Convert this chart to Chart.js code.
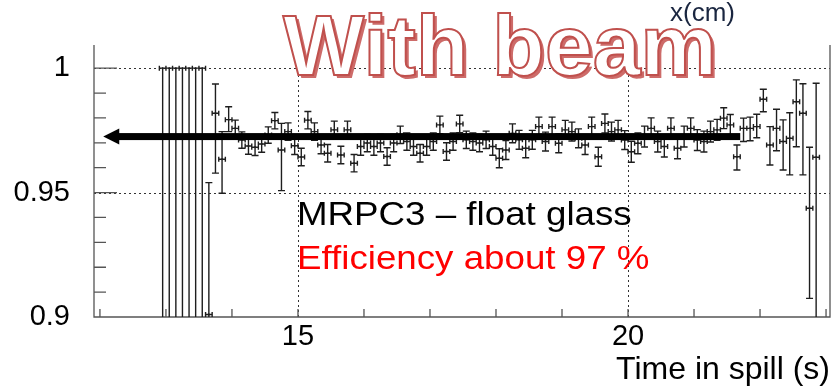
<!DOCTYPE html>
<html>
<head>
<meta charset="utf-8">
<script src="https://cdn.jsdelivr.net/npm/chart.js@4.4.1/dist/chart.umd.min.js"></script>
<style>
  html, body { margin: 0; padding: 0; background: #fff; }
  canvas { display: block; }
</style>
</head>
<body>
<canvas id="chart" width="834" height="386"></canvas>
<script>
'use strict';

// bin centres in seconds (0.1 s bins)
var spillTime = [
    12.95, 13.05, 13.15, 13.25, 13.35, 13.45, 13.55, 13.65, 13.75, 13.85,
    13.95, 14.05, 14.15, 14.25, 14.35, 14.45, 14.55, 14.65, 14.75, 14.85,
    14.95, 15.05, 15.15, 15.25, 15.35, 15.45, 15.55, 15.65, 15.75, 15.85,
    15.95, 16.05, 16.15, 16.25, 16.35, 16.45, 16.55, 16.65, 16.75, 16.85,
    16.95, 17.05, 17.15, 17.25, 17.35, 17.45, 17.55, 17.65, 17.75, 17.85,
    17.95, 18.05, 18.15, 18.25, 18.35, 18.45, 18.55, 18.65, 18.75, 18.85,
    18.95, 19.05, 19.15, 19.25, 19.35, 19.45, 19.55, 19.65, 19.75, 19.85,
    19.95, 20.05, 20.15, 20.25, 20.35, 20.45, 20.55, 20.65, 20.75, 20.85,
    20.95, 21.05, 21.15, 21.25, 21.35, 21.45, 21.55, 21.65, 21.75, 21.85,
    21.95, 22.05, 22.15, 22.25, 22.35, 22.45, 22.55, 22.65, 22.75, 22.85
];
var efficiency = [
    1.0, 1.0, 1.0, 1.0, 1.0, 1.0, 1.0, 0.901, 0.9819, 0.9634,
    0.9793, 0.9758, 0.9711, 0.9687, 0.9682, 0.9695, 0.9731, 0.9789, 0.9671, 0.9745,
    0.9688, 0.9643, 0.9791, 0.9745, 0.9691, 0.9658, 0.9752, 0.9651, 0.9752, 0.9618,
    0.9685, 0.9699, 0.9685, 0.9699, 0.9645, 0.9699, 0.9732, 0.9705, 0.9685, 0.9658,
    0.9685, 0.9705, 0.9772, 0.9665, 0.9705, 0.9776, 0.9712, 0.9705, 0.9699, 0.9712,
    0.9685, 0.9638, 0.9671, 0.9738, 0.9712, 0.9678, 0.9712, 0.9765, 0.9705, 0.9765,
    0.9698, 0.9752, 0.9745, 0.9718, 0.9691, 0.9765, 0.9644, 0.9778, 0.9745, 0.9752,
    0.9711, 0.9664, 0.9698, 0.9725, 0.9758, 0.9705, 0.9685, 0.9758, 0.9678, 0.9725,
    0.9758, 0.9711, 0.9705, 0.9745, 0.9752, 0.9799, 0.9772, 0.9644, 0.9758, 0.9758,
    0.9765, 0.9875, 0.9691, 0.9758, 0.9705, 0.9718, 0.9865, 0.9819, 0.9437, 0.9642
];
var errUp = [
    0, 0, 0, 0, 0, 0, 0, 0.053, 0.0117, 0.0111,
    0.0052, 0.0033, 0.0033, 0.0033, 0.0033, 0.0033, 0.0033, 0.0033, 0.0107, 0.0035,
    0.0035, 0.0035, 0.0035, 0.0035, 0.0035, 0.0035, 0.0035, 0.0035, 0.0035, 0.0035,
    0.0035, 0.0035, 0.0035, 0.0035, 0.0035, 0.0035, 0.0035, 0.0035, 0.0035, 0.0035,
    0.0035, 0.0035, 0.0035, 0.0035, 0.0035, 0.0035, 0.0035, 0.0035, 0.0035, 0.0035,
    0.0035, 0.0038, 0.0038, 0.0038, 0.0038, 0.0038, 0.0038, 0.0038, 0.0038, 0.0038,
    0.0038, 0.0038, 0.0038, 0.0038, 0.0038, 0.0038, 0.0038, 0.0038, 0.0038, 0.0038,
    0.0038, 0.0042, 0.0042, 0.0042, 0.0042, 0.0042, 0.0042, 0.0042, 0.0042, 0.0042,
    0.0042, 0.0042, 0.0042, 0.0042, 0.0042, 0.0042, 0.0042, 0.0047, 0.0041, 0.0045,
    0.0050, 0.0040, 0.0074, 0.0077, 0.0087, 0.0103, 0.0088, 0.0118, 0.0245, 0.0297
];
var errDown = [
    1, 1, 1, 1, 1, 1, 1, 0.9, 0.0241, 0.0137,
    0.0048, 0.0033, 0.0033, 0.0033, 0.0033, 0.0033, 0.0033, 0.0033, 0.0163, 0.0035,
    0.0035, 0.0035, 0.0035, 0.0035, 0.0035, 0.0035, 0.0035, 0.0035, 0.0035, 0.0035,
    0.0035, 0.0035, 0.0035, 0.0035, 0.0035, 0.0035, 0.0035, 0.0035, 0.0035, 0.0035,
    0.0035, 0.0035, 0.0035, 0.0035, 0.0035, 0.0035, 0.0035, 0.0035, 0.0035, 0.0035,
    0.0035, 0.0038, 0.0038, 0.0038, 0.0038, 0.0038, 0.0038, 0.0038, 0.0038, 0.0038,
    0.0038, 0.0038, 0.0038, 0.0038, 0.0038, 0.0038, 0.0038, 0.0038, 0.0038, 0.0038,
    0.0038, 0.0042, 0.0042, 0.0042, 0.0042, 0.0042, 0.0042, 0.0042, 0.0042, 0.0042,
    0.0042, 0.0042, 0.0042, 0.0042, 0.0042, 0.0042, 0.0042, 0.0053, 0.0053, 0.0050,
    0.0045, 0.0050, 0.0080, 0.0090, 0.0114, 0.0147, 0.0181, 0.0248, 0.0362, 0.1
];
var binHalfWidth = 0.05;

var xTickLabels = [15, 20];
var yTickLabels = [0.9, 0.95, 1];
var xMinorTicks = [12, 13, 14, 15, 16, 17, 18, 19, 20, 21, 22, 23];
var yMinorTicks = [0.91, 0.92, 0.93, 0.94, 0.96, 0.97, 0.98, 0.99];

// mean efficiency level marked by the arrow
var arrowLevel = 0.9725;
var arrowTip = 12.05;
var arrowTail = 21.7;

var FONT = '"Liberation Sans", Arial, sans-serif';

// dotted grid, axis lines and inward ticks
var frame = {
    id: 'frame',
    beforeDatasetsDraw: function (chart) {
        var ctx = chart.ctx, a = chart.chartArea;
        var x = chart.scales.x, y = chart.scales.y;
        ctx.save();

        ctx.strokeStyle = '#333';
        ctx.lineWidth = 1;
        ctx.setLineDash([2, 3]);
        ctx.beginPath();
        yTickLabels.forEach(function (v) {
            if (v <= y.min) return;
            var py = Math.round(y.getPixelForValue(v)) + 0.5;
            ctx.moveTo(a.left, py);
            ctx.lineTo(a.right, py);
        });
        xTickLabels.forEach(function (v) {
            var px = Math.round(x.getPixelForValue(v)) + 0.5;
            ctx.moveTo(px, a.top);
            ctx.lineTo(px, a.bottom);
        });
        ctx.stroke();
        ctx.setLineDash([]);

        ctx.strokeStyle = '#555';
        ctx.lineWidth = 1.3;
        ctx.beginPath();
        ctx.moveTo(a.left, a.top);
        ctx.lineTo(a.left, a.bottom);
        ctx.lineTo(a.right, a.bottom);
        ctx.lineTo(a.right, a.top);
        yTickLabels.forEach(function (v) {
            var py = y.getPixelForValue(v);
            ctx.moveTo(a.left, py);
            ctx.lineTo(a.left + 23, py);
        });
        yMinorTicks.forEach(function (v) {
            var py = y.getPixelForValue(v);
            ctx.moveTo(a.left, py);
            ctx.lineTo(a.left + 12, py);
        });
        xMinorTicks.forEach(function (v) {
            var px = x.getPixelForValue(v);
            ctx.moveTo(px, a.bottom);
            ctx.lineTo(px, a.bottom - 8);
        });
        ctx.stroke();
        ctx.restore();
    }
};

// error bars: bin width in x, asymmetric errors in y
var errorBars = {
    id: 'errorBars',
    afterDatasetsDraw: function (chart) {
        var ctx = chart.ctx, a = chart.chartArea;
        var x = chart.scales.x, y = chart.scales.y;
        ctx.save();
        ctx.beginPath();
        ctx.rect(a.left, a.top, a.right - a.left, a.bottom - a.top);
        ctx.clip();
        ctx.strokeStyle = '#1e1e1e';
        ctx.lineWidth = 1.4;
        ctx.beginPath();
        for (var i = 0; i < spillTime.length; i++) {
            var t = spillTime[i], v = efficiency[i];
            var px = x.getPixelForValue(t);
            var py = y.getPixelForValue(v);
            var top = y.getPixelForValue(v + errUp[i]);
            var bot = y.getPixelForValue(v - errDown[i]);
            var xl = x.getPixelForValue(t - binHalfWidth);
            var xr = x.getPixelForValue(t + binHalfWidth);

            ctx.moveTo(px, top);
            ctx.lineTo(px, bot);
            if (errUp[i] > 0) {
                ctx.moveTo(px - 3.5, top);
                ctx.lineTo(px + 3.5, top);
            }
            ctx.moveTo(px - 3.5, bot);
            ctx.lineTo(px + 3.5, bot);

            ctx.moveTo(xl, py);
            ctx.lineTo(xr, py);
            ctx.moveTo(xl, py - 2.5);
            ctx.lineTo(xl, py + 2.5);
            ctx.moveTo(xr, py - 2.5);
            ctx.lineTo(xr, py + 2.5);
        }
        ctx.stroke();
        ctx.restore();
    }
};

// arrow at the mean level plus the labels
var annotations = {
    id: 'annotations',
    afterDraw: function (chart) {
        var ctx = chart.ctx;
        var x = chart.scales.x, y = chart.scales.y;
        ctx.save();

        var ay = y.getPixelForValue(arrowLevel);
        var tip = x.getPixelForValue(arrowTip);
        var tail = x.getPixelForValue(arrowTail);
        ctx.fillStyle = '#000';
        ctx.fillRect(tip + 12, ay - 3.5, tail - tip - 12, 7);
        ctx.beginPath();
        ctx.moveTo(tip, ay);
        ctx.lineTo(tip + 16, ay - 8);
        ctx.lineTo(tip + 16, ay + 8);
        ctx.closePath();
        ctx.fill();

        ctx.textBaseline = 'alphabetic';
        ctx.textAlign = 'left';

        ctx.font = '26px ' + FONT;
        ctx.fillStyle = '#1a2640';
        ctx.fillText('x(cm)', 670, 21);

        ctx.font = 'bold 86px ' + FONT;
        ctx.fillStyle = '#cd6b69';
        ctx.fillText('With beam', 286, 78);
        ctx.fillStyle = '#fff';
        ctx.fillText('With beam', 283, 75);
        ctx.strokeStyle = '#c0504d';
        ctx.lineWidth = 2;
        ctx.strokeText('With beam', 283, 75);

        ctx.font = '34px ' + FONT;
        ctx.save();
        ctx.translate(297, 225);
        ctx.scale(1.08, 1);
        ctx.fillStyle = '#000';
        ctx.fillText('MRPC3 \u2013 float glass', 0, 0);
        ctx.restore();

        ctx.save();
        ctx.translate(297, 269);
        ctx.scale(1.08, 1);
        ctx.fillStyle = '#ff0000';
        ctx.fillText('Efficiency about 97 %', 0, 0);
        ctx.restore();

        ctx.restore();
    }
};

var points = spillTime.map(function (t, i) {
    return { x: t, y: efficiency[i] };
});

var chart = new Chart(
    document.getElementById('chart').getContext('2d'),
    {
        type: 'scatter',
        data: {
            datasets: [
                {
                    data: points,
                    pointRadius: 1,
                    pointBackgroundColor: '#000',
                    pointBorderWidth: 0
                }
            ]
        },
        options: {
            responsive: false,
            animation: false,
            layout: { padding: { top: 45, right: 1, left: 0, bottom: 0 } },
            plugins: {
                legend: { display: false },
                tooltip: { enabled: false }
            },
            scales: {
                x: {
                    type: 'linear',
                    min: 11.91,
                    max: 23.06,
                    grid: { display: false, drawTicks: false },
                    border: { display: false },
                    afterBuildTicks: function (scale) {
                        scale.ticks = xTickLabels.map(function (v) { return { value: v }; });
                    },
                    afterFit: function (scale) { scale.height = 69; },
                    ticks: {
                        autoSkip: false,
                        maxRotation: 0,
                        padding: 3,
                        color: '#000',
                        font: { family: FONT, size: 29 },
                        callback: function (v) { return String(v); }
                    },
                    title: {
                        display: true,
                        text: 'Time in spill (s)',
                        align: 'end',
                        color: '#000',
                        padding: { top: 0, bottom: 0 },
                        font: { family: FONT, size: 32, lineHeight: 1 }
                    }
                },
                y: {
                    type: 'linear',
                    min: 0.9,
                    max: 1.0093,
                    grid: { display: false, drawTicks: false },
                    border: { display: false },
                    afterBuildTicks: function (scale) {
                        scale.ticks = yTickLabels.map(function (v) { return { value: v }; });
                    },
                    afterFit: function (scale) { scale.width = 94; },
                    ticks: {
                        autoSkip: false,
                        padding: 24,
                        color: '#000',
                        font: { family: FONT, size: 29 },
                        callback: function (v) { return String(v); }
                    }
                }
            }
        },
        plugins: [frame, errorBars, annotations]
    }
);
</script>
</body>
</html>
